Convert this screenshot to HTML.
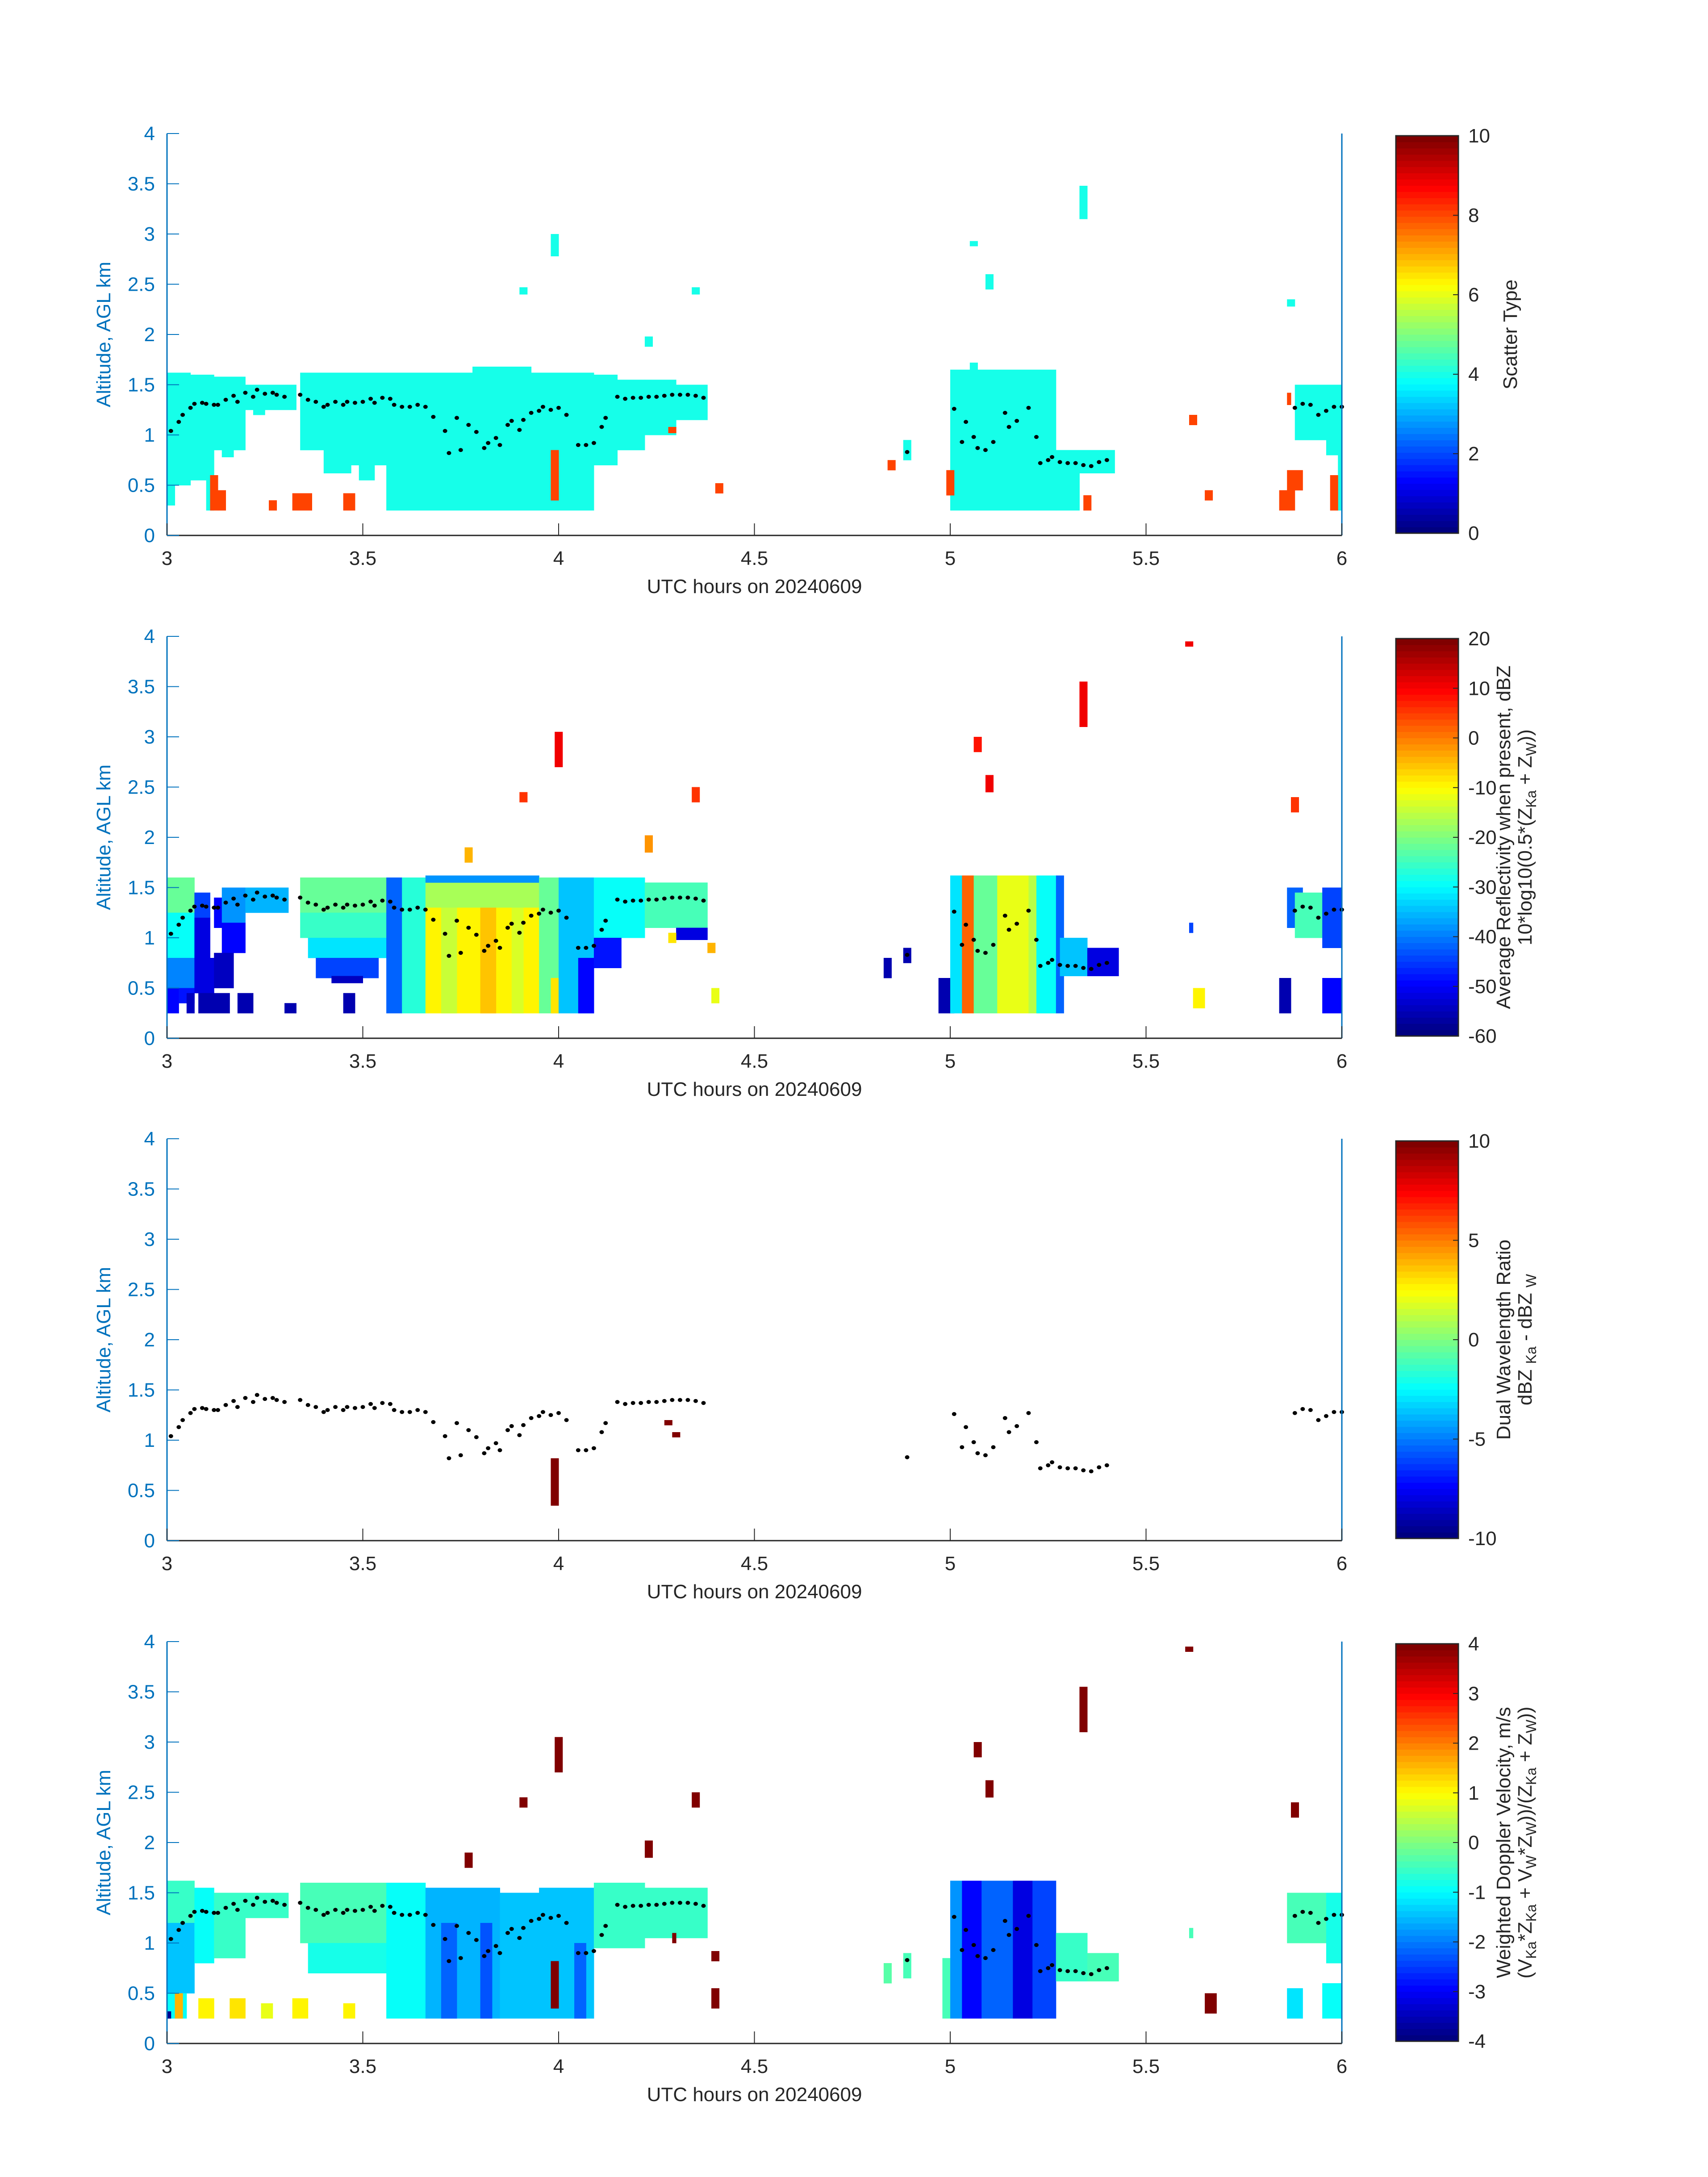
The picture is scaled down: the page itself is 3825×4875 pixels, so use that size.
<!DOCTYPE html>
<html><head><meta charset="utf-8"><title>Radar panels</title>
<style>html,body{margin:0;padding:0;background:#fff}svg{display:block}text{font-family:"Liberation Sans",sans-serif}</style>
</head><body>
<svg id="fig" xmlns="http://www.w3.org/2000/svg" width="3825" height="4875" viewBox="0 0 3825 4875"></svg>
<script>
// ---- shared axis data ----
const xTicks=[3,3.5,4,4.5,5,5.5,6];
const xTickLabels=['3','3.5','4','4.5','5','5.5','6'];
const yTicks=[0,0.5,1,1.5,2,2.5,3,3.5,4];
const yTickLabels=['0','0.5','1','1.5','2','2.5','3','3.5','4'];
const cbTicks1=[0,2,4,6,8,10];
const cbTicks2=[-60,-50,-40,-30,-20,-10,0,10,20];
const cbTicks3=[-10,-5,0,5,10];
const cbTicks4=[-4,-3,-2,-1,0,1,2,3,4];
// cloud-top markers (hour, km)
const dotHours=[3.01,3.03,3.04,3.06,3.07,3.09,3.10,3.12,3.13,3.15,3.17,3.18,3.20,3.22,3.23,3.25,3.27,3.28,3.30,3.34,3.36,3.38,3.40,3.41,3.43,3.45,3.46,3.48,3.50,3.52,3.53,3.55,3.57,3.58,3.60,3.62,3.64,3.66,3.68,3.71,3.72,3.74,3.75,3.77,3.79,3.81,3.82,3.84,3.85,3.87,3.88,3.90,3.91,3.93,3.95,3.96,3.98,4.00,4.02,4.05,4.07,4.09,4.11,4.12,4.15,4.17,4.19,4.21,4.23,4.25,4.27,4.29,4.31,4.33,4.35,4.37,4.89,5.01,5.03,5.04,5.06,5.07,5.09,5.11,5.14,5.15,5.17,5.20,5.22,5.23,5.25,5.26,5.28,5.30,5.32,5.34,5.36,5.38,5.40,5.88,5.90,5.92,5.94,5.96,5.98,6.00];
const dotKm=[1.04,1.13,1.20,1.27,1.31,1.32,1.31,1.30,1.30,1.35,1.39,1.33,1.42,1.38,1.45,1.41,1.42,1.40,1.38,1.40,1.35,1.33,1.28,1.30,1.33,1.30,1.33,1.32,1.33,1.36,1.32,1.37,1.36,1.30,1.28,1.28,1.30,1.28,1.18,1.04,0.82,1.17,0.85,1.10,1.03,0.87,0.92,0.97,0.90,1.10,1.14,1.05,1.15,1.22,1.24,1.28,1.25,1.27,1.20,0.90,0.90,0.92,1.08,1.17,1.38,1.36,1.37,1.37,1.38,1.38,1.39,1.40,1.40,1.40,1.39,1.37,0.83,1.26,0.93,1.13,0.98,0.87,0.85,0.93,1.22,1.08,1.14,1.27,0.98,0.72,0.75,0.78,0.73,0.72,0.72,0.70,0.69,0.73,0.75,1.27,1.31,1.30,1.20,1.24,1.28,1.28];
// ---- panel 1: scatter type cells [h0,h1,lowKm,highKm,value] ----
const scatterCells=[
[3.00,3.02,0.30,1.62,4],[3.02,3.06,0.50,1.62,4],[3.06,3.10,0.55,1.60,4],[3.10,3.12,0.25,1.60,4],[3.12,3.20,0.85,1.58,4],[3.14,3.17,0.78,0.85,4],
[3.20,3.33,1.25,1.50,4],[3.22,3.25,1.20,1.25,4],
[3.34,3.40,0.85,1.62,4],[3.40,3.47,0.62,1.62,4],[3.47,3.56,0.70,1.62,4],[3.49,3.53,0.55,0.70,4],[3.56,4.09,0.25,1.62,4],[3.78,3.93,1.62,1.68,4],
[4.09,4.15,0.70,1.60,4],[4.15,4.22,0.85,1.55,4],[4.22,4.30,1.00,1.55,4],[4.30,4.38,1.15,1.50,4],
[3.98,4.00,2.78,3.00,4],[3.90,3.92,2.40,2.47,4],[4.22,4.24,1.88,1.98,4],[4.34,4.36,2.40,2.47,4],[5.05,5.07,2.88,2.93,4],[5.09,5.11,2.45,2.60,4],[5.33,5.35,3.15,3.48,4],[5.86,5.88,2.28,2.35,4],[4.88,4.90,0.75,0.95,4],
[5.00,5.27,0.25,1.65,4],[5.05,5.07,1.65,1.72,4],[5.27,5.42,0.62,0.85,4],[5.27,5.33,0.25,0.62,4],
[5.88,5.96,0.95,1.50,4],[5.96,6.00,0.80,1.50,4],[5.99,6.00,0.25,0.80,4],
[3.11,3.13,0.25,0.60,8.1],[3.13,3.15,0.25,0.45,8.1],[3.26,3.28,0.25,0.35,8.1],[3.32,3.37,0.25,0.42,8.1],[3.45,3.48,0.25,0.42,8.1],[3.98,4.00,0.35,0.85,8.1],[4.28,4.30,1.02,1.08,8.1],[4.40,4.42,0.42,0.52,8.1],[4.84,4.86,0.65,0.75,8.1],[4.99,5.01,0.40,0.65,8.1],[5.34,5.36,0.25,0.40,8.1],[5.61,5.63,1.10,1.20,8.1],[5.65,5.67,0.35,0.45,8.1],[5.84,5.88,0.25,0.45,8.1],[5.86,5.90,0.45,0.65,8.1],[5.97,5.99,0.25,0.60,8.1],[5.86,5.87,1.30,1.42,8.1]];
// ---- panel 2: reflectivity cells ----
const reflCells=[
[3.00,3.07,1.25,1.60,-22],[3.00,3.07,0.80,1.25,-30],[3.00,3.07,0.50,0.80,-40],[3.00,3.03,0.25,0.50,-50],[3.03,3.07,0.35,0.50,-48],[3.05,3.07,0.25,0.45,-55],
[3.07,3.11,1.20,1.45,-45],[3.07,3.11,0.80,1.20,-52],[3.07,3.12,0.45,0.80,-52],[3.08,3.16,0.25,0.45,-56],[3.12,3.14,1.10,1.40,-50],[3.14,3.20,1.15,1.50,-38],[3.14,3.20,0.85,1.15,-50],[3.12,3.17,0.50,0.85,-54],
[3.18,3.22,0.25,0.45,-56],[3.20,3.31,1.25,1.50,-36],[3.30,3.33,0.25,0.35,-56],[3.45,3.48,0.25,0.45,-56],
[3.34,3.56,1.25,1.60,-22],[3.34,3.56,1.00,1.25,-26],[3.36,3.56,0.80,1.00,-32],[3.38,3.54,0.60,0.80,-44],[3.42,3.50,0.55,0.62,-55],
[3.56,3.60,0.25,1.60,-42],[3.60,3.66,0.25,1.60,-27],[3.66,3.95,1.30,1.62,-17],[3.66,3.95,0.25,1.30,-10],[3.70,3.74,0.25,1.30,-14],[3.80,3.84,0.25,1.30,-6],[3.88,3.91,0.25,1.30,-13],[3.66,3.95,1.55,1.62,-38],
[3.95,4.00,0.25,1.60,-22],[3.98,4.00,0.25,0.60,-8],[4.00,4.09,0.25,1.60,-35],[4.05,4.09,0.25,0.80,-50],
[4.09,4.22,1.00,1.60,-30],[4.09,4.16,0.70,1.00,-48],[4.22,4.38,1.10,1.55,-24],[4.30,4.38,0.98,1.10,-52],[4.28,4.30,0.95,1.05,-8],[4.38,4.40,0.85,0.95,-5],[4.39,4.41,0.35,0.50,-12],
[3.76,3.78,1.75,1.90,-5],[3.90,3.92,2.35,2.45,5],[3.99,4.01,2.70,3.05,10],[4.22,4.24,1.85,2.02,-2],[4.34,4.36,2.35,2.50,5],[5.06,5.08,2.85,3.00,8],[5.09,5.11,2.45,2.62,10],[5.33,5.35,3.10,3.55,10],[5.60,5.62,3.90,3.95,10],[5.87,5.89,2.25,2.40,5],
[4.83,4.85,0.60,0.80,-56],[4.88,4.90,0.75,0.90,-56],
[4.97,5.01,0.25,0.60,-56],[5.00,5.03,0.25,1.62,-32],[5.03,5.06,0.25,1.62,2],[5.06,5.12,0.25,1.62,-22],[5.12,5.20,0.25,1.62,-12],[5.20,5.27,0.25,1.62,-16],[5.22,5.27,0.25,1.62,-30],[5.27,5.29,0.25,1.62,-42],
[5.28,5.35,0.62,1.00,-35],[5.35,5.43,0.62,0.90,-52],[5.62,5.65,0.30,0.50,-10],[5.61,5.62,1.05,1.15,-45],
[5.86,5.90,1.10,1.50,-42],[5.88,5.96,1.00,1.45,-24],[5.84,5.87,0.25,0.60,-56],[5.95,6.00,0.90,1.50,-45],[5.95,6.00,0.25,0.60,-50]];
// ---- panel 3: dual wavelength ratio cells ----
const dwrCells=[[3.98,4.00,0.35,0.82,10],[4.27,4.29,1.15,1.20,10],[4.29,4.31,1.03,1.08,10]];
// ---- panel 4: Doppler velocity cells ----
const velCells=[
[3.00,3.07,1.20,1.62,-0.6],[3.00,3.07,0.50,1.20,-1.4],[3.07,3.12,0.80,1.55,-1.0],[3.12,3.20,0.85,1.50,-0.6],[3.20,3.31,1.25,1.50,-0.6],[3.00,3.05,0.25,0.50,-1.0],
[3.02,3.04,0.25,0.50,1.5],[3.08,3.12,0.25,0.45,1.0],[3.16,3.20,0.25,0.45,1.2],[3.24,3.27,0.25,0.40,0.8],[3.32,3.36,0.25,0.45,1.0],[3.45,3.48,0.25,0.40,1.0],[3.00,3.01,0.25,0.32,-3.8],
[3.34,3.56,1.00,1.60,-0.5],[3.36,3.56,0.70,1.00,-0.8],[3.56,3.66,0.25,1.60,-0.9],[3.66,3.85,0.25,1.55,-1.6],[3.70,3.74,0.25,1.20,-2.2],[3.80,3.83,0.25,1.20,-2.3],
[3.85,3.95,0.25,1.50,-1.5],[3.95,4.09,0.25,1.55,-1.4],[4.04,4.07,0.25,1.00,-2.2],[4.09,4.22,0.95,1.60,-0.6],[4.22,4.38,1.05,1.55,-0.6],
[3.98,4.00,0.35,0.82,4],[4.29,4.30,1.00,1.10,4],[4.39,4.41,0.82,0.92,4],[4.39,4.41,0.35,0.55,4],
[3.76,3.78,1.75,1.90,4],[3.90,3.92,2.35,2.45,4],[3.99,4.01,2.70,3.05,4],[4.22,4.24,1.85,2.02,4],[4.34,4.36,2.35,2.50,4],[5.06,5.08,2.85,3.00,4],[5.09,5.11,2.45,2.62,4],[5.33,5.35,3.10,3.55,4],[5.60,5.62,3.90,3.95,4],[5.87,5.89,2.25,2.40,4],
[4.83,4.85,0.60,0.80,-0.3],[4.88,4.90,0.65,0.90,-0.4],
[4.98,5.00,0.25,0.85,-0.5],[5.00,5.03,0.25,1.62,-1.8],[5.03,5.08,0.25,1.62,-3.0],[5.08,5.16,0.25,1.62,-2.2],[5.16,5.21,0.25,1.62,-3.2],[5.21,5.27,0.25,1.62,-2.4],
[5.27,5.35,0.62,1.10,-0.6],[5.35,5.43,0.62,0.90,-0.5],[5.65,5.68,0.30,0.50,4],[5.61,5.62,1.05,1.15,-0.4],
[5.86,5.96,1.00,1.50,-0.5],[5.86,5.90,0.25,0.55,-1.2],[5.96,6.00,0.80,1.50,-0.8],[5.95,6.00,0.25,0.60,-1.0]];

// ---- layout ----
const NS='http://www.w3.org/2000/svg';
const svg=document.getElementById('fig');
const X0=374,X1=3005,PH=900;
const panelTops=[299,1425,2550,3676];
const BLUE='#0072BD',DARK='#262626';
function xs(h){return X0+(h-3)/3*(X1-X0);}
function jet(t){t=Math.max(0,Math.min(1,t));t=Math.min(63,Math.floor(t*64))/63;
 const f=v=>Math.round(255*Math.max(0,Math.min(1,v)));
 return `rgb(${f(1.5-Math.abs(4*t-3))},${f(1.5-Math.abs(4*t-2))},${f(1.5-Math.abs(4*t-1))})`;}
function mk(tag,attrs,parent){const e=document.createElementNS(NS,tag);for(const k in attrs)e.setAttribute(k,attrs[k]);(parent||svg).appendChild(e);return e;}

const panels=[
 {cells:scatterCells,min:0,max:10,ticks:cbTicks1,name:'scatter-type',label:[['Scatter Type']]},
 {cells:reflCells,min:-60,max:20,ticks:cbTicks2,name:'reflectivity',label:[['Average Reflectivity when present, dBZ'],['10*log10(0.5*(Z',['Ka'],' + Z',['W'],'))']]},
 {cells:dwrCells,min:-10,max:10,ticks:cbTicks3,name:'dual-wavelength-ratio',label:[['Dual Wavelength Ratio'],['dBZ ',['Ka'],' - dBZ ',['W']]]},
 {cells:velCells,min:-4,max:4,ticks:cbTicks4,name:'doppler-velocity',label:[['Weighted Doppler Velocity, m/s'],['(V',['Ka'],'*Z',['Ka'],' + V',['W'],'*Z',['W'],'))/(Z',['Ka'],' + Z',['W'],'))']]}
];

panels.forEach((p,i)=>{
 const top=panelTops[i],bot=top+PH;
 const ys=k=>bot-k/4*PH;
 const g=mk('g',{});
 
 
 p.cells.forEach(c=>{
  const r=mk('rect',{x:xs(c[0]),y:ys(c[3]),width:xs(c[1])-xs(c[0])+0.5,height:ys(c[2])-ys(c[3])+0.5,fill:jet((c[4]-p.min)/(p.max-p.min))},g);
  
  
 });
 dotHours.forEach((h,j)=>{
  const d=mk('ellipse',{cx:xs(h),cy:ys(dotKm[j]),rx:5,ry:4.5,fill:'#000'},g);
  
  
 });
 const xl=mk('line',{x1:X0,y1:bot,x2:X1,y2:bot,stroke:DARK,'stroke-width':3},g);
 
 
 const yl=mk('line',{x1:X0,y1:top,x2:X0,y2:bot,stroke:BLUE,'stroke-width':3},g);
 
 
 const rl=mk('line',{x1:X1,y1:top,x2:X1,y2:bot,stroke:BLUE,'stroke-width':3},g);
 
 
 xTicks.forEach((t,j)=>{
  mk('line',{x1:xs(t),y1:bot,x2:xs(t),y2:bot-27,stroke:DARK,'stroke-width':2},g);
  const tx=mk('text',{x:xs(t),y:bot+66,'font-size':44,fill:DARK,'text-anchor':'middle'},g);
  tx.textContent=xTickLabels[j];
  
  
 });
 yTicks.forEach((t,j)=>{
  mk('line',{x1:X0,y1:ys(t),x2:X0+27,y2:ys(t),stroke:BLUE,'stroke-width':2},g);
  const ty=mk('text',{x:347,y:ys(t)+15,'font-size':44,fill:BLUE,'text-anchor':'end'},g);
  ty.textContent=yTickLabels[j];
  
  
 });
 const xt=mk('text',{x:(X0+X1)/2,y:bot+129,'font-size':44,fill:DARK,'text-anchor':'middle'},g);
 xt.textContent='UTC hours on 20240609';
 
 
 const yt=mk('text',{x:0,y:0,'font-size':44,fill:BLUE,'text-anchor':'middle',transform:`translate(247,${top+PH/2}) rotate(-90)`},g);
 yt.textContent='Altitude, AGL km';
 
 
 const cb=mk('g',{},g);
 
 
 const cx0=3126,cx1=3266,ct=top+5,cbt=bot-5,ch=cbt-ct;
 for(let k=0;k<64;k++){
  mk('rect',{x:cx0,y:cbt-(k+1)*ch/64,width:cx1-cx0,height:ch/64+0.6,fill:jet(k/63)},cb);
 }
 mk('rect',{x:cx0,y:ct,width:cx1-cx0,height:ch,fill:'none',stroke:DARK,'stroke-width':3},cb);
 p.ticks.forEach(t=>{
  const y=cbt-(t-p.min)/(p.max-p.min)*ch;
  mk('line',{x1:cx1-12,y1:y,x2:cx1,y2:y,stroke:DARK,'stroke-width':2},cb);
  const tl=mk('text',{x:3288,y:y+15,'font-size':44,fill:DARK},cb);
  tl.textContent=String(t);
  
  
 });
 const baseX=p.label.length===1?[3397]:[3382,3430];
 p.label.forEach((line,li)=>{
  const t=mk('text',{x:0,y:0,'font-size':44,fill:DARK,'text-anchor':'middle',transform:`translate(${baseX[li]},${top+PH/2}) rotate(-90)`},cb);
  
  
  line.forEach(part=>{
   if(typeof part==='string'){const s=mk('tspan',{},t);s.textContent=part;}
   else{const s=mk('tspan',{'baseline-shift':'-30%','font-size':32},t);s.textContent=part[0];}
  });
 });
});
</script>
</body></html>
